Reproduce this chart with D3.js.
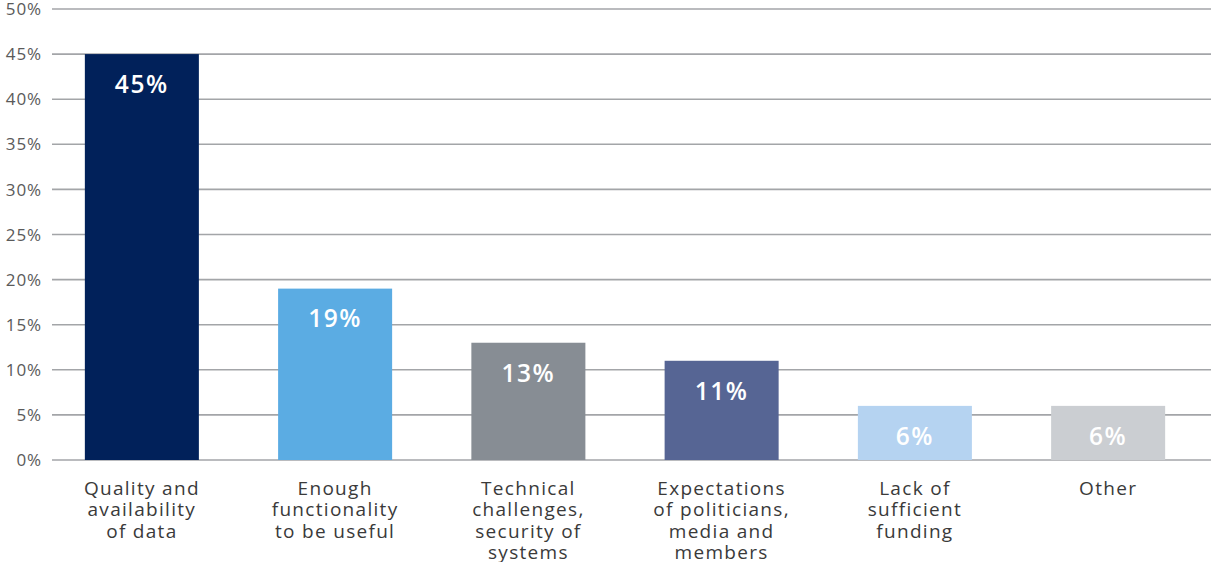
<!DOCTYPE html>
<html>
<head>
<meta charset="utf-8">
<script src="https://cdn.jsdelivr.net/npm/d3@7"></script>
<style>
  html, body { margin: 0; padding: 0; background: #fff; }
  svg text { font-family: "Open Sans", "Lato", sans-serif; }
</style>
</head>
<body>
<svg id="chart" width="1212" height="562"></svg>
<script>
// Survey responses: biggest obstacles (share of respondents)
const categories = [
  ["Quality and", "availability", "of data"],
  ["Enough", "functionality", "to be useful"],
  ["Technical", "challenges,", "security of", "systems"],
  ["Expectations", "of politicians,", "media and", "members"],
  ["Lack of", "sufficient", "funding"],
  ["Other"]
];
const values = [45, 19, 13, 11, 6, 6];
const barColors = ["#01215A", "#5BACE3", "#878D94", "#566594", "#B5D3F1", "#CBCED2"];
const yTicks = [0, 5, 10, 15, 20, 25, 30, 35, 40, 45, 50];

const svg = d3.select("#chart");

const x = d3.scaleBand()
  .domain(d3.range(values.length))
  .range([52, 1198])
  .paddingInner(0.41)
  .paddingOuter(0.17);

const y = d3.scaleLinear().domain([0, 50]).range([460, 9]);

// horizontal gridlines
svg.append("g")
  .selectAll("line")
  .data(yTicks)
  .join("line")
  .attr("x1", 52)
  .attr("x2", 1211)
  .attr("y1", d => y(d))
  .attr("y2", d => y(d))
  .attr("stroke", "#a3a5a8")
  .attr("stroke-width", 1.6);

// y tick labels
svg.append("g")
  .selectAll("text")
  .data(yTicks)
  .join("text")
  .attr("x", 42)
  .attr("y", d => y(d))
  .attr("dy", "0.36em")
  .attr("text-anchor", "end")
  .attr("fill", "#5a5a5a")
  .attr("font-size", 17)
  .attr("letter-spacing", 0.9)
  .text(d => d + "%");

// bars
svg.append("g")
  .selectAll("rect")
  .data(values)
  .join("rect")
  .attr("x", (d, i) => x(i))
  .attr("width", x.bandwidth())
  .attr("y", d => y(d))
  .attr("height", d => y(0) - y(d))
  .attr("fill", (d, i) => barColors[i]);

// value labels inside the bars
svg.append("g")
  .selectAll("text")
  .data(values)
  .join("text")
  .attr("x", (d, i) => x(i) + x.bandwidth() / 2)
  .attr("y", d => y(d) + 30)
  .attr("dy", "0.36em")
  .attr("text-anchor", "middle")
  .attr("fill", "#ffffff")
  .attr("font-size", 24.5)
  .attr("font-weight", 600)
  .attr("letter-spacing", 1.6)
  .text(d => d + "%");

// category labels below the axis
const cat = svg.append("g")
  .selectAll("text")
  .data(categories)
  .join("text")
  .attr("text-anchor", "middle")
  .attr("fill", "#3a3a3a")
  .attr("font-size", 19)
  .attr("letter-spacing", 1.3)
  .attr("x", (d, i) => x(i) + x.bandwidth() / 2)
  .attr("y", 495);

cat.selectAll("tspan")
  .data(d => d)
  .join("tspan")
  .attr("x", function () { return this.parentNode.getAttribute("x"); })
  .attr("dy", (d, j) => j === 0 ? 0 : 21.3)
  .text(d => d);
</script>
</body>
</html>
